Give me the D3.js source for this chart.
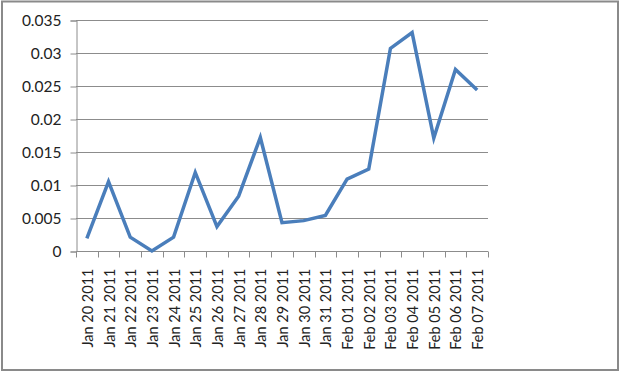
<!DOCTYPE html>
<html><head><meta charset="utf-8">
<script src="https://cdn.jsdelivr.net/npm/d3@7"></script>
<style>body{margin:0;background:#fff}svg{display:block}</style>
</head><body><svg id="c" width="620" height="373"></svg>
<script>
const categories = ["Jan 20 2011","Jan 21 2011","Jan 22 2011","Jan 23 2011","Jan 24 2011","Jan 25 2011","Jan 26 2011","Jan 27 2011","Jan 28 2011","Jan 29 2011","Jan 30 2011","Jan 31 2011","Feb 01 2011","Feb 02 2011","Feb 03 2011","Feb 04 2011","Feb 05 2011","Feb 06 2011","Feb 07 2011"];
const values = [0.0019,0.0105,0.0021,0.0,0.0021,0.0119,0.0037,0.0083,0.0172,0.0043,0.0046,0.0054,0.0109,0.0124,0.0307,0.0331,0.0171,0.0275,0.0244];
const yTicks = [0,0.005,0.01,0.015,0.02,0.025,0.03,0.035];
const yTickLabels = ["0","0.005","0.01","0.015","0.02","0.025","0.03","0.035"];

const svg = d3.select("#c");
const font = "Lato, 'Open Sans', sans-serif";
const gridColor = "#8c8c8c";

svg.append("rect").attr("x",2).attr("y",1.5).attr("width",616).attr("height",368.5)
  .attr("fill","#fff").attr("stroke","#8a8a8a").attr("stroke-width",2);

const L=76, R=488, T=20, B=251;
const x = d3.scaleBand().domain(categories).range([L,R]);
const y = d3.scaleLinear().domain([0,0.035]).range([B,T]);

// gridlines
svg.append("g").selectAll("line").data(yTicks.slice(1)).join("line")
  .attr("x1",L).attr("x2",R).attr("y1",d=>Math.round(y(d))+0.5).attr("y2",d=>Math.round(y(d))+0.5)
  .attr("stroke",gridColor).attr("stroke-width",1);

// y axis
const yAxis = d3.axisLeft(y).tickValues(yTicks).tickFormat((d,i)=>yTickLabels[i]).tickSize(6).tickPadding(9);
const gy = svg.append("g").attr("transform",`translate(${L+0.5},0.5)`).call(yAxis);
gy.select(".domain").attr("stroke",gridColor);
gy.selectAll(".tick line").attr("stroke",gridColor);
gy.selectAll("text").attr("font-family",font).attr("font-size",15.5).attr("fill","#222");

// x axis
const gx = svg.append("g").attr("transform",`translate(0,${Math.round(B)+0.5})`);
gx.append("line").attr("x1",L).attr("x2",R).attr("stroke",gridColor);
const bounds = categories.map(c=>x(c)).concat([R]);
gx.selectAll("line.t").data(bounds).join("line").attr("class","t")
  .attr("x1",d=>Math.round(d)+0.5).attr("x2",d=>Math.round(d)+0.5).attr("y1",0).attr("y2",6)
  .attr("stroke",gridColor);
gx.selectAll("text").data(categories).join("text")
  .attr("transform",d=>`translate(${x(d)+x.bandwidth()/2+6},${17}) rotate(-90)`)
  .attr("text-anchor","end")
  .attr("font-family",font).attr("font-size",14.5).attr("fill","#222")
  .text(d=>d);

// line
const line = d3.line().x((d,i)=>x(categories[i])+x.bandwidth()/2).y(d=>y(d));
svg.append("path").datum(values).attr("d",line).attr("fill","none")
  .attr("stroke","#4a7ebb").attr("stroke-width",3.5).attr("stroke-linejoin","miter");
</script></body></html>
